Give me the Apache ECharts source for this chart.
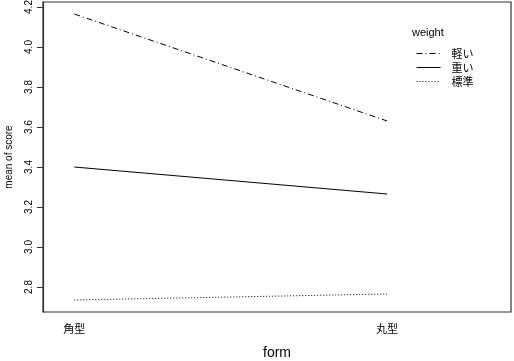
<!DOCTYPE html>
<html><head><meta charset="utf-8">
<script src="https://cdn.jsdelivr.net/npm/echarts@6/dist/echarts.min.js"></script>
<style>html,body{margin:0;padding:0;background:#fff}#c{width:514px;height:361px}</style>
</head><body><div id="c"></div>
<script>
const categories = ['角型', '丸型'];
const seriesNames = ['軽い', '重い', '標準'];
const valuesLight = [4.165, 3.63];
const valuesHeavy = [3.40, 3.265];
const valuesStandard = [2.735, 2.765];
const yTicks = [2.8, 3.0, 3.2, 3.4, 3.6, 3.8, 4.0, 4.2];

const allValues = [valuesLight, valuesHeavy, valuesStandard];
const lineTypes = [[6, 3, 1, 3], 'solid', [1, 2]];
const font = '"Liberation Sans", Arial, sans-serif';
const cjk = '"Noto Sans CJK JP", sans-serif';

const chart = echarts.init(document.getElementById('c'), null, {renderer: 'canvas'});
chart.setOption({
  animation: false,
  backgroundColor: '#fff',
  textStyle: {fontFamily: font},
  title: {
    text: 'weight', left: 412, top: 27, padding: 0,
    textStyle: {fontSize: 11, fontWeight: 'normal', color: '#000', fontFamily: font}
  },
  legend: {
    orient: 'vertical', left: 416, top: 48, itemGap: 3, padding: 0,
    itemWidth: 24, itemHeight: 10,
    itemStyle: {opacity: 0},
    lineStyle: {width: 1},
    textStyle: {fontSize: 11, color: '#000', fontFamily: cjk, padding: [0, 0, 0, 6]},
    data: seriesNames,
    selectedMode: false
  },
  grid: {left: 43, right: 3, top: 2, bottom: 49, show: true, borderColor: '#333', borderWidth: 1.2,
         outerBoundsMode: 'none', containLabel: false},
  xAxis: {
    type: 'value', min: 0.9, max: 2.396,
    splitLine: {show: false},
    axisLine: {show: false},
    axisTick: {show: false},
    axisLabel: {
      customValues: categories.map((c, i) => i + 1),
      formatter: v => categories[Math.round(v) - 1] || '',
      fontSize: 11, color: '#000', margin: 11, fontFamily: cjk
    },
    name: 'form', nameLocation: 'middle', nameGap: 34,
    nameTextStyle: {fontSize: 14, color: '#000'}
  },
  yAxis: {
    type: 'value', min: 2.675, max: 4.225,
    splitLine: {show: false},
    axisLine: {show: true, lineStyle: {color: '#333', width: 1.2}},
    axisTick: {show: true, length: 6, customValues: yTicks, lineStyle: {color: '#333'}},
    axisLabel: {
      customValues: yTicks, rotate: 90, formatter: v => v.toFixed(1),
      fontSize: 10, color: '#000', margin: 9
    },
    name: 'mean of score', nameLocation: 'middle', nameGap: 29,
    nameTextStyle: {fontSize: 10, color: '#000'}
  },
  series: seriesNames.map((n, si) => ({
    name: n, type: 'line', symbol: 'none', silent: true,
    data: allValues[si].map((v, i) => [i + 1, v]),
    lineStyle: {color: '#000', width: 1, type: lineTypes[si]},
    itemStyle: {color: '#000'}
  }))
});
</script></body></html>
